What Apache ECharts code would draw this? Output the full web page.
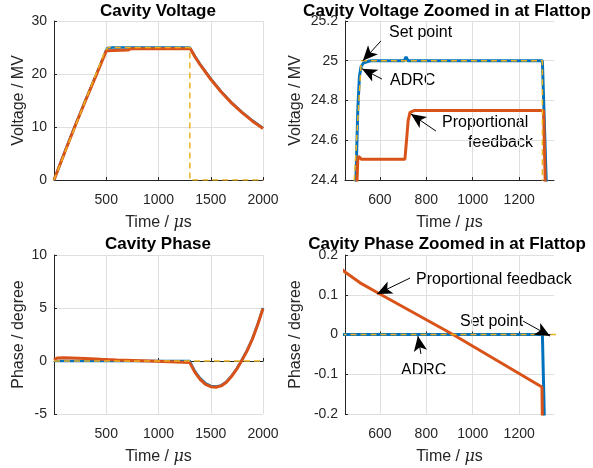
<!DOCTYPE html>
<html>
<head>
<meta charset="utf-8">
<script src="https://cdn.jsdelivr.net/npm/echarts@6/dist/echarts.min.js"></script>
<style>
  html, body { margin: 0; padding: 0; background: #fff; }
  #chart { width: 593px; height: 468px; }
</style>
</head>
<body>
<div id="chart"></div>
<script>
// ---- data ----
// cavity voltage, ADRC
var adrcVoltT = [0, 100, 200, 300, 400, 480, 497, 505, 512, 519, 530, 560, 705, 713, 721, 800, 1000, 1300, 1315, 1350, 1400, 1500, 1600, 1700, 1800, 1900, 2000];
var adrcVoltV = [0, 5.2, 10.2, 15.0, 19.7, 23.6, 24.4, 24.75, 24.92, 24.97, 24.99, 25.0, 25.0, 25.02, 25.0, 25.0, 25.0, 25.0, 24.45, 23.3, 21.8, 19.1, 16.7, 14.6, 12.8, 11.2, 9.8];
// cavity voltage, proportional feedback
var propVoltT = [0, 100, 200, 300, 400, 480, 502, 505, 508, 512, 520, 708, 715, 722, 730, 750, 1305, 1312, 1350, 1400, 1500, 1600, 1700, 1800, 1900, 2000];
var propVoltV = [0, 5.1, 10.1, 14.9, 19.6, 23.4, 24.4, 24.5, 24.52, 24.51, 24.505, 24.505, 24.6, 24.7, 24.74, 24.75, 24.75, 24.4, 23.2, 21.7, 19.0, 16.6, 14.5, 12.7, 11.1, 9.7];
// cavity voltage, set point
var setVoltT = [0, 490, 520, 1300, 1300, 2000];
var setVoltV = [0, 24.4, 25, 25, 0, 0];

// cavity phase, ADRC
var adrcPhaseT = [0, 1300, 1310, 1350, 1400, 1450, 1500, 1550, 1600, 1650, 1700, 1750, 1800, 1850, 1900, 1950, 2000];
var adrcPhaseV = [0, 0, -0.25, -1.0, -1.65, -2.1, -2.35, -2.4, -2.3, -1.95, -1.4, -0.7, 0.15, 1.05, 2.15, 3.5, 5.0];
// cavity phase, proportional feedback
var propPhaseT = [0, 30, 100, 300, 450, 515, 600, 915, 1298, 1302, 1350, 1400, 1450, 1500, 1550, 1600, 1650, 1700, 1750, 1800, 1850, 1900, 1950, 2000];
var propPhaseV = [0.1, 0.28, 0.3, 0.24, 0.157, 0.13, 0.102, 0, -0.132, -0.3, -1.1, -1.75, -2.2, -2.42, -2.48, -2.35, -2.0, -1.45, -0.75, 0.1, 1.0, 2.1, 3.45, 4.95];
// cavity phase, set point
var setPhaseT = [0, 2000];
var setPhaseV = [0, 0];

var zoomTicks = [600, 800, 1000, 1200];

var BLUE = '#0072BD', RED = '#D95319', YEL = '#EDB120';
var FONT = '"Liberation Sans", Arial, sans-serif';
var TXT = '#262626';

function pairs(t, v) {
  return t.map(function (x, i) { return [x, v[i]]; });
}

// annotation arrow: thin line, filled head at the "to" end
function arrow(from, to) {
  return [
    { coord: from, symbol: 'none' },
    { coord: to, symbol: 'arrow', symbolSize: [10, 15] }
  ];
}

var grids = [
  { left: 54, top: 21, width: 209, height: 159 },
  { left: 345, top: 21, width: 209, height: 159 },
  { left: 54, top: 255, width: 209, height: 159 },
  { left: 345, top: 255, width: 209, height: 159 }
];

var timeName = {
  name: '{a|Time / }{mu|\u03bc}{a|s}',
  nameLocation: 'middle',
  nameGap: 35,
  nameTextStyle: {
    rich: {
      a: { fontFamily: FONT, fontSize: 16, color: TXT },
      mu: { fontFamily: '"DejaVu Serif", serif', fontStyle: 'italic', fontSize: 16, color: TXT }
    }
  }
};

function plain(v) { return String(v); }

function xAxisFull(gi) {
  return Object.assign({
    gridIndex: gi, type: 'value', min: 0, max: 2000, interval: 500,
    axisLine: { lineStyle: { color: TXT, width: 1 } },
    axisTick: { inside: true, length: 3, lineStyle: { color: TXT } },
    axisLabel: { showMinLabel: false, color: TXT, fontFamily: FONT, fontSize: 14, margin: 13, formatter: plain },
    splitLine: { show: true, lineStyle: { color: '#dfdfdf', width: 1 } }
  }, timeName);
}

function xAxisZoom(gi) {
  return Object.assign({
    gridIndex: gi, type: 'value', min: 450, max: 1350,
    axisLine: { lineStyle: { color: TXT, width: 1 } },
    axisTick: { inside: true, length: 3, lineStyle: { color: TXT }, customValues: zoomTicks },
    axisLabel: { color: TXT, fontFamily: FONT, fontSize: 14, margin: 13, customValues: zoomTicks, formatter: plain },
    splitLine: { show: true, lineStyle: { color: '#dfdfdf', width: 1 } }
  }, timeName);
}

function yAxis(gi, name, min, max, interval, gap) {
  return {
    gridIndex: gi, type: 'value', min: min, max: max, interval: interval,
    name: name, nameLocation: 'middle', nameGap: gap,
    nameTextStyle: { fontFamily: FONT, fontSize: 16, color: TXT },
    axisLine: { show: true, lineStyle: { color: TXT, width: 1 } },
    axisTick: { show: true, inside: true, length: 3, lineStyle: { color: TXT } },
    axisLabel: { color: TXT, fontFamily: FONT, fontSize: 14, margin: 7 },
    splitLine: { show: true, lineStyle: { color: '#dfdfdf', width: 1 } }
  };
}

function line(gi, data, color, width, dashed, marks) {
  var s = {
    type: 'line', xAxisIndex: gi, yAxisIndex: gi, data: data,
    showSymbol: false, symbol: 'none', animation: false, silent: true,
    lineStyle: { color: color, width: width, type: dashed ? [6, 4] : 'solid' },
    itemStyle: { color: color }
  };
  if (marks) {
    s.markLine = {
      silent: true, animation: false,
      symbol: ['none', 'arrow'], symbolSize: 12,
      lineStyle: { color: '#000', width: 1, type: 'solid' },
      itemStyle: { color: '#000' },
      label: { show: false },
      data: marks
    };
  }
  return s;
}

function text(x, y, str, bold, align) {
  return {
    type: 'text', x: x, y: y, silent: true,
    style: {
      text: str, fill: '#000', fontFamily: FONT,
      fontSize: bold ? 17 : 16, fontWeight: bold ? 'bold' : 'normal',
      align: align || 'left', verticalAlign: 'middle'
    }
  };
}

var option = {
  backgroundColor: '#fff',
  grid: grids,
  xAxis: [xAxisFull(0), xAxisZoom(1), xAxisFull(2), xAxisZoom(3)],
  yAxis: [
    yAxis(0, 'Voltage / MV', 0, 30, 10, 27),
    yAxis(1, 'Voltage / MV', 24.4, 25.2, 0.2, 41),
    yAxis(2, 'Phase / degree', -5, 10, 5, 27),
    yAxis(3, 'Phase / degree', -0.2, 0.2, 0.1, 41)
  ],
  series: [
    line(0, pairs(adrcVoltT, adrcVoltV), BLUE, 2.5),
    line(0, pairs(propVoltT, propVoltV), RED, 3),
    line(0, pairs(setVoltT, setVoltV), YEL, 1.5, true),

    line(1, pairs(adrcVoltT, adrcVoltV), BLUE, 3),
    line(1, pairs(propVoltT, propVoltV), RED, 3),
    line(1, pairs(setVoltT, setVoltV), YEL, 1.5, true, [
      arrow([605, 25.1], [527, 25.0]),
      arrow([609, 24.908], [523, 24.96]),
      arrow([842, 24.646], [734, 24.732])
    ]),

    line(2, pairs(adrcPhaseT, adrcPhaseV), BLUE, 2.5),
    line(2, pairs(propPhaseT, propPhaseV), RED, 3),
    line(2, pairs(setPhaseT, setPhaseV), YEL, 1.5, true),

    line(3, pairs(adrcPhaseT, adrcPhaseV), BLUE, 3),
    line(3, pairs(propPhaseT, propPhaseV), RED, 3),
    line(3, pairs(setPhaseT, setPhaseV), YEL, 1.5, true, [
      arrow([730, 0.142], [588, 0.102]),
      arrow([1216, 0.034], [1333, -0.004]),
      arrow([777, -0.049], [764, -0.004])
    ])
  ],
  graphic: [
    text(158, 11, 'Cavity Voltage', true, 'center'),
    text(447, 11, 'Cavity Voltage Zoomed in at Flattop', true, 'center'),
    text(158, 244, 'Cavity Phase', true, 'center'),
    text(447, 244, 'Cavity Phase Zoomed in at Flattop', true, 'center'),

    text(389, 33, 'Set point'),
    text(390, 81, 'ADRC'),
    text(442, 123, 'Proportional'),
    text(533, 143, 'feedback', false, 'right'),

    text(416, 280, 'Proportional feedback'),
    text(460, 322, 'Set point'),
    text(401, 371, 'ADRC')
  ]
};

var myChart = echarts.init(document.getElementById('chart'));
myChart.setOption(option);
</script>
</body>
</html>
